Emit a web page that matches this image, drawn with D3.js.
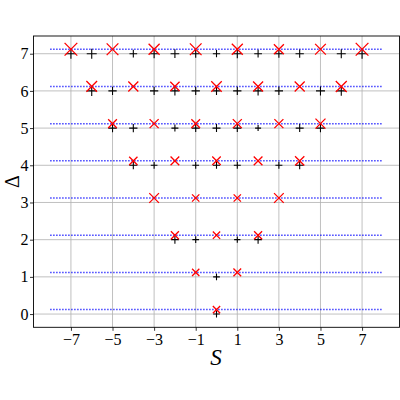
<!DOCTYPE html>
<html><head><meta charset="utf-8">
<script src="https://cdn.jsdelivr.net/npm/d3@7"></script>
<style>body{margin:0;background:#fff}svg{display:block}</style>
</head><body>
<svg id="c" width="400" height="400"></svg>
<script>
// ---- data ----
const deltaLevels = [0, 1, 2, 3, 4, 5, 6, 7];
const xTicks = [-7, -5, -3, -1, 1, 3, 5, 7];
const yTicks = [0, 1, 2, 3, 4, 5, 6, 7];
const lineStart = -8, lineEnd = 8;
const crossOffset = 0.12;

// red "x" markers: level, S, marker size
const crossLevel = [0, 1,1, 2,2,2, 3,3,3,3, 4,4,4,4,4, 5,5,5,5,5,5, 6,6,6,6,6,6,6, 7,7,7,7,7,7,7,7];
const crossS     = [0, -1,1, -2,0,2, -3,-1,1,3, -4,-2,0,2,4, -5,-3,-1,1,3,5, -6,-4,-2,0,2,4,6, -7,-5,-3,-1,1,3,5,7];
const crossSize  = [7.3, 7.3,7.7, 8,7.3,8, 9.7,7.3,7.3,9.7, 8.3,8.7,8.5,8.7,9.3, 8.7,9,8.7,9,9,10, 10.7,10,9.3,10.5,10,10,11, 12.7,11.7,11,11.7,11,10,10.7,12.7];

// black "+" markers: level, S, marker size
const plusLevel = [0, 1, 2,2,2,2, 4,4,4,4,4,4,4, 5,5,5,5,5,5,5,5,5, 6,6,6,6,6,6,6,6,6,6,6, 7,7,7,7,7,7,7,7,7,7,7,7,7];
const plusS     = [0, 0, -2,-1,1,2, -4,-3,-1,0,1,3,4, -5,-4,-2,-1,0,1,2,4,5, -6,-5,-3,-2,-1,0,1,2,3,5,6, -7,-6,-4,-3,-2,-1,0,1,2,3,4,6,7];
const plusSize  = [6.7, 6.7, 8,6.7,6.3,8, 8,6.7,6.7,7,7,7,8, 8.5,8.3,7,8,8,8,6,8,8.5, 10,8.3,8.3,9,8.3,8,8.3,9,8.3,9,9.5, 10,10,7.7,9,8.7,8,7.3,9,7.7,8,8.3,9,10];

// ---- chart ----
const svg = d3.select('#c');
const mLeft = 33.5, mRight = 399.5, mTop = 36, mBottom = 327.3;
const x = d3.scaleLinear().domain([-8.8, 8.8]).range([mLeft, mRight]);
const y = d3.scaleLinear().domain([-0.356, 7.476]).range([mBottom, mTop]);
const serif = '"Liberation Serif", "DejaVu Serif", serif';

svg.append('clipPath').attr('id','clp').append('rect')
  .attr('x', mLeft).attr('y', mTop).attr('width', mRight-mLeft).attr('height', mBottom-mTop);

// grid
const grid = svg.append('g').attr('stroke', '#b0b0b0').attr('stroke-width', 0.8);
grid.selectAll('.vx').data(xTicks).join('line')
  .attr('x1', d => x(d)).attr('x2', d => x(d)).attr('y1', mTop).attr('y2', mBottom);
grid.selectAll('.hy').data(yTicks).join('line')
  .attr('y1', d => y(d)).attr('y2', d => y(d)).attr('x1', mLeft).attr('x2', mRight);

// blue dotted lines
const plot = svg.append('g').attr('clip-path', 'url(#clp)');
plot.selectAll('.bl').data(deltaLevels).join('line')
  .attr('x1', x(lineStart)).attr('x2', x(lineEnd))
  .attr('y1', d => y(d + crossOffset)).attr('y2', d => y(d + crossOffset))
  .attr('stroke', 'blue').attr('stroke-width', 1.5).attr('stroke-dasharray', '1.5 1.5')
  .attr('stroke-opacity', 0.75);

// black plus markers
const plusData = plusLevel.map((l, i) => ({l, s: plusS[i], z: plusSize[i]}));
plot.selectAll('.pl').data(plusData).join('path')
  .attr('d', d => {
    const cx = x(d.s), cy = y(d.l), h = d.z / 2;
    return `M${cx-h},${cy}H${cx+h}M${cx},${cy-h}V${cy+h}`;
  })
  .attr('stroke', 'black').attr('stroke-width', 1.1).attr('fill', 'none');

// red x markers
const crossData = crossLevel.map((l, i) => ({l, s: crossS[i], z: crossSize[i]}));
plot.selectAll('.cr').data(crossData).join('path')
  .attr('d', d => {
    const cx = x(d.s), cy = y(d.l + crossOffset), h = d.z / 2;
    return `M${cx-h},${cy-h}L${cx+h},${cy+h}M${cx-h},${cy+h}L${cx+h},${cy-h}`;
  })
  .attr('stroke', 'red').attr('stroke-width', 1.3).attr('fill', 'none');

// axes frame
svg.append('rect').attr('x', mLeft).attr('y', mTop).attr('width', mRight-mLeft).attr('height', mBottom-mTop)
  .attr('fill', 'none').attr('stroke', 'black').attr('stroke-width', 0.9);

// axes
const xAxis = d3.axisBottom(x).tickValues(xTicks).tickSize(3.5).tickPadding(3)
  .tickFormat(d => d < 0 ? '\u2212' + Math.abs(d) : String(d));
const gx = svg.append('g').attr('transform', `translate(0,${mBottom})`).call(xAxis);
const yAxis = d3.axisLeft(y).tickValues(yTicks).tickSize(3.5).tickPadding(1.5).tickFormat(d3.format('d'));
const gy = svg.append('g').attr('transform', `translate(${mLeft},0)`).call(yAxis);
[gx, gy].forEach(g => {
  g.select('.domain').remove();
  g.selectAll('.tick line').attr('stroke', 'black').attr('stroke-width', 0.8);
  g.selectAll('.tick text').attr('font-family', serif).attr('font-size', 16).attr('fill', 'black');
});

// axis labels
svg.append('text').attr('x', (mLeft + mRight) / 2 - 0.5).attr('y', 365)
  .attr('text-anchor', 'middle').attr('font-family', serif).attr('font-style', 'italic')
  .attr('font-size', 23).text('S');
svg.append('text').attr('transform', `translate(18.5,${(mTop + mBottom) / 2}) rotate(-90)`)
  .attr('text-anchor', 'middle').attr('font-family', serif)
  .attr('font-size', 20).text('\u0394');
</script>
</body></html>
